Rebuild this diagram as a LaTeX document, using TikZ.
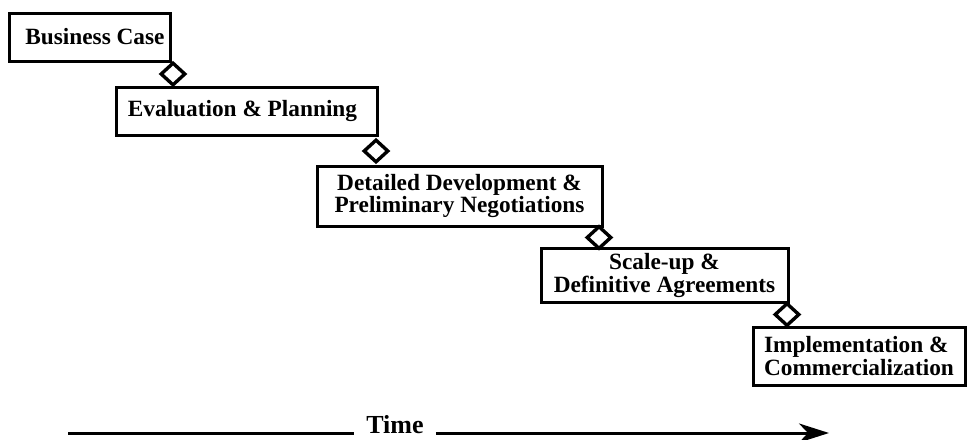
\documentclass[tikz,border=0pt]{standalone}
\usepackage{fontspec}
\setmainfont{Liberation Serif}
\usetikzlibrary{shapes.geometric,arrows.meta}
\begin{document}
\begin{tikzpicture}[x=1pt,y=-1pt,
  stage/.style={draw, line width=3pt, rectangle, inner sep=0pt, align=center,
    font=\fontsize{23.3}{22.5}\selectfont\bfseries},
  gate/.style={draw, line width=3.4pt, diamond, inner sep=0pt,
    minimum width=25pt, minimum height=23pt, fill=white},
  axis/.style={line width=3pt}]
\useasboundingbox (0,0) rectangle (968,439);

% stage boxes, stepping down to the right
\node[stage, minimum width=161pt, minimum height=48pt] (bc) at (89.5,37) {\hspace*{11pt}Business Case};
\node[stage, minimum width=261pt, minimum height=48pt] (ep) at (246.5,111) {Evaluation \& Planning\hspace*{8pt}};
\node[stage, minimum width=285pt, minimum height=60pt] (dd) at (459.5,196) {Detailed Development \&\\Preliminary Negotiations};
\node[stage, minimum width=247pt, minimum height=54pt] (sa) at (664.5,275.5) {Scale-up \&\\Definitive Agreements};
\node[stage, minimum width=212pt, minimum height=58pt, align=left] (ic) at (859,356) {Implementation \&\\Commercialization};

% decision gates between consecutive stages
\node[gate] (g1) at (173,74) {};
\node[gate] (g2) at (376,151) {};
\node[gate] (g3) at (599,237.5) {};
\node[gate] (g4) at (787,314.5) {};

% time axis
\coordinate (t0) at (68,433);
\coordinate (t1) at (829,433);
\node[font=\fontsize{26}{26}\selectfont\bfseries, inner xsep=12pt, inner ysep=0pt, anchor=base] (time) at (395,433) {Time};
\draw[axis] (t0) -- (time.base west);
\draw[axis, -{Stealth[length=30pt,width=19pt,inset=9pt]}] (time.base east) -- (t1);
\end{tikzpicture}
\end{document}
